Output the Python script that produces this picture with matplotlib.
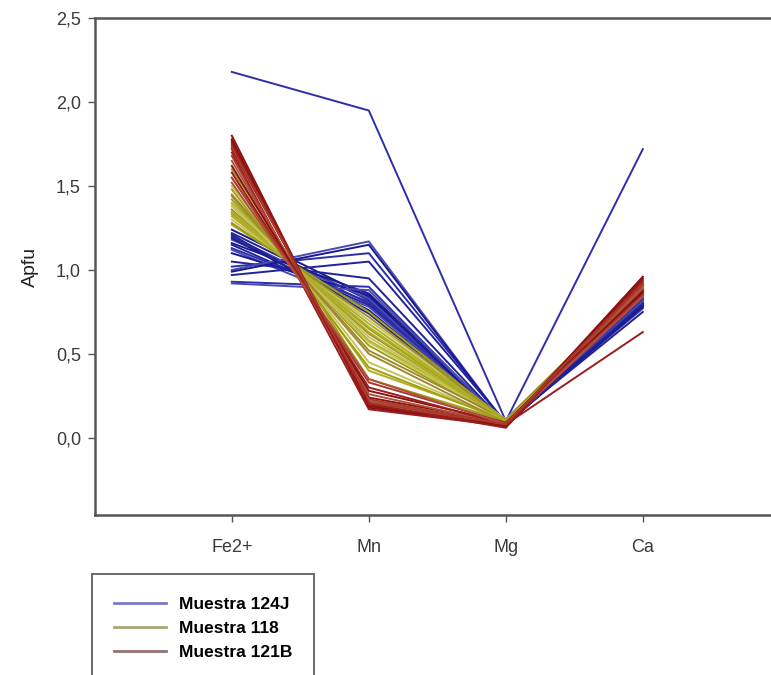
import matplotlib
matplotlib.use('Agg')
import matplotlib.pyplot as plt
from matplotlib.lines import Line2D

plt.rcParams['font.family'] = ['Liberation Sans', 'DejaVu Sans']

# categorias del eje x
elementos = ['Fe2+', 'Mn', 'Mg', 'Ca']

# Muestra 124J (azul)
fe_124j = [1.24, 1.22, 1.20, 1.18, 1.16, 1.15, 1.13, 1.12, 1.10, 1.05, 1.02, 1.00, 0.99, 0.97, 0.93, 0.92, 1.19, 1.21, 2.18]
mn_124j = [0.84, 0.82, 0.80, 0.83, 0.86, 0.79, 0.81, 0.78, 0.85, 0.95, 1.10, 1.17, 1.15, 1.05, 0.90, 0.88, 0.76, 0.74, 1.95]
mg_124j = [0.08, 0.09, 0.08, 0.07, 0.09, 0.08, 0.08, 0.09, 0.07, 0.08, 0.09, 0.08, 0.08, 0.09, 0.07, 0.08, 0.09, 0.08, 0.10]
ca_124j = [0.80, 0.82, 0.78, 0.85, 0.83, 0.79, 0.81, 0.77, 0.84, 0.86, 0.80, 0.82, 0.78, 0.75, 0.83, 0.81, 0.79, 0.80, 1.72]

# Muestra 118 (amarillo/oliva)
fe_118 = [1.60, 1.55, 1.50, 1.45, 1.42, 1.40, 1.38, 1.36, 1.34, 1.32, 1.30, 1.28, 1.27, 1.35, 1.39, 1.44, 1.48, 1.33]
mn_118 = [0.35, 0.40, 0.45, 0.50, 0.55, 0.58, 0.60, 0.62, 0.65, 0.68, 0.70, 0.72, 0.75, 0.63, 0.57, 0.52, 0.42, 0.66]
mg_118 = [0.10, 0.11, 0.10, 0.09, 0.10, 0.11, 0.10, 0.10, 0.09, 0.10, 0.11, 0.10, 0.10, 0.09, 0.10, 0.11, 0.10, 0.10]
ca_118 = [0.88, 0.90, 0.86, 0.89, 0.91, 0.87, 0.90, 0.88, 0.85, 0.92, 0.89, 0.87, 0.90, 0.86, 0.88, 0.91, 0.89, 0.87]

# Muestra 121B (rojo oscuro)
fe_121b = [1.80, 1.78, 1.76, 1.74, 1.72, 1.70, 1.68, 1.65, 1.62, 1.58, 1.55, 1.52, 1.77, 1.75, 1.73]
mn_121b = [0.18, 0.19, 0.20, 0.22, 0.24, 0.17, 0.21, 0.26, 0.28, 0.30, 0.33, 0.35, 0.19, 0.20, 0.23]
mg_121b = [0.07, 0.08, 0.07, 0.08, 0.09, 0.07, 0.08, 0.08, 0.09, 0.08, 0.09, 0.08, 0.07, 0.06, 0.08]
ca_121b = [0.95, 0.93, 0.91, 0.90, 0.88, 0.86, 0.92, 0.89, 0.87, 0.63, 0.85, 0.84, 0.96, 0.94, 0.92]

muestras = [
    ('Muestra 124J', (fe_124j, mn_124j, mg_124j, ca_124j), ['#1a1a8c', '#22229a', '#2e2ea8', '#4a4ab4'], '#7a7ac4'),
    ('Muestra 118', (fe_118, mn_118, mg_118, ca_118), ['#a0a010', '#b0b028', '#c4c456', '#a08a30'], '#a8a872'),
    ('Muestra 121B', (fe_121b, mn_121b, mg_121b, ca_121b), ['#8b1010', '#9a1c1c', '#a83a2a', '#b05040'], '#957070'),
]

fig = plt.figure(figsize=(7.71, 6.75), dpi=100)
ax = fig.add_axes([0.123, 0.237, 0.876, 0.736])

x = list(range(1, len(elementos) + 1))
for nombre, cols, colores, _ in muestras:
    n = len(cols[0])
    for i in range(n):
        ys = [c[i] for c in cols]
        ax.plot(x, ys, color=colores[i % len(colores)], lw=1.4)

ax.set_xlim(0, 4.93)
ax.set_ylim(-0.46, 2.5)
ax.set_xticks(x)
ax.set_xticklabels(elementos)
ax.set_yticks([0.0, 0.5, 1.0, 1.5, 2.0, 2.5])
ax.set_yticklabels(['0,0', '0,5', '1,0', '1,5', '2,0', '2,5'])
ax.tick_params(direction='out', length=5, width=1, colors='#555555', labelcolor='#3a3a3a', labelsize=13)
ax.tick_params(axis='x', pad=12)
ax.tick_params(axis='y', pad=5)
for s in ax.spines.values():
    s.set_color('#555555')
    s.set_linewidth(1.8)
ax.spines['right'].set_visible(False)
ax.set_ylabel('Apfu', fontsize=14, color='#222222', labelpad=12)

handles = [Line2D([0], [0], color=m[3], lw=2) for m in muestras]
leg = fig.legend(handles, [m[0] for m in muestras], loc='upper left',
                 bbox_to_anchor=(0.119, 0.149), frameon=True, fancybox=False,
                 prop={'weight': 'bold', 'size': 12.5}, handlelength=3.0,
                 borderpad=1.3, labelspacing=0.5, handletextpad=0.7,
                 borderaxespad=0)
leg.get_frame().set_edgecolor('#444444')
leg.get_frame().set_linewidth(1.4)

fig.savefig('out.png', dpi=100)
